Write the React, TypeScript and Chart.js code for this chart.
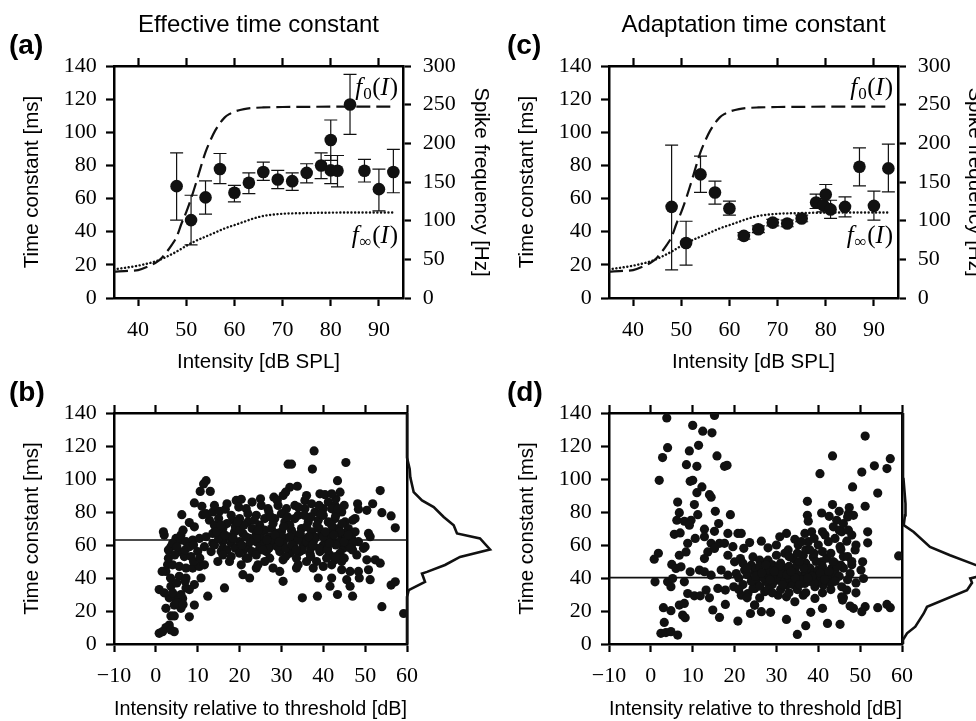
import React, { useEffect, useRef } from 'react';
import { Chart, registerables } from 'chart.js';
Chart.register(...registerables);

const SERIF = '"Liberation Serif", "Times New Roman", serif';
const SANS = '"Liberation Sans", Arial, sans-serif';

// ---------- tick values ----------
const msTicks = [0, 20, 40, 60, 80, 100, 120, 140];
const hzTicks = [0, 50, 100, 150, 200, 250, 300];
const dbTicks = [40, 50, 60, 70, 80, 90];
const relTicks = [-10, 0, 10, 20, 30, 40, 50, 60];

// ---------- (a) effective time constant vs intensity ----------
const effIntensity = [48, 51, 54, 57, 60, 63, 66, 69, 72, 75, 78, 80, 80, 81.4, 84, 87, 90, 93];
const effMean = [67.5, 47, 60.7, 77.8, 63.5, 69.5, 76, 71.5, 70.5, 75.5, 80, 95.3, 77, 76.8, 116.8, 76.8, 65.7, 76];
const effLow = [47, 32, 50.6, 69, 58, 63, 71, 66, 65, 69.5, 72, 83, 69, 67, 98.7, 70, 52.6, 63.5];
const effHigh = [87.6, 62, 70.7, 87.2, 68, 75.5, 82, 77, 75.5, 81, 87.6, 107.4, 86, 86, 135, 83.6, 77.8, 89.7];

// ---------- (c) adaptation time constant vs intensity ----------
const adaIntensity = [48, 51, 54, 57, 60, 63, 66, 69, 72, 75, 78, 79.5, 80, 81, 84, 87, 90, 93];
const adaMean = [55, 33.2, 74.6, 63.7, 54, 37.5, 41.5, 45.5, 45, 48, 57.6, 56, 62.5, 53.4, 55, 79.2, 55.6, 78.2];
const adaLow = [17, 19.8, 63.7, 56.6, 50, 35.5, 39.5, 43.5, 43, 46, 54, 52, 57, 48, 49, 67.7, 47, 64];
const adaHigh = [92.3, 46.3, 85.6, 70.5, 58.4, 39.5, 43.5, 47.5, 47, 50, 62.7, 60, 68.5, 59, 61, 90.6, 64.5, 92.9];

// ---------- onset / steady-state rate curves (Hz) ----------
const f0X = [35, 38, 40, 42, 44, 45, 46, 47, 48, 49, 50, 51, 52, 53, 54, 55, 56, 57, 58, 59, 60, 62, 64, 66, 70, 93];
const f0Hz = [34, 35, 36, 40.5, 47, 52.5, 60, 68.6, 79, 96, 111, 128.6, 148, 169, 188.6, 203.6, 216.4, 226, 233.6, 238, 241, 244.3, 245.8, 246.4, 247, 247.5];
const fInfX = [35, 40, 44, 46, 48, 50, 52, 54, 56, 58, 60, 62, 64, 66, 68, 70, 74, 80, 93];
const fInfHz = [37, 41.8, 48.2, 53.6, 60, 67.5, 73.9, 79.3, 84.6, 90, 94.3, 98.6, 102.9, 106.1, 107.8, 108.9, 109.7, 110.4, 110.6];

// ---------- (b) effective time constant vs relative intensity ----------
const effScatter: number[][] = [
  [12, 99], [11.4, 97], [10.6, 92.5], [13, 92.5], [9.2, 85.5], [11, 83.5], [6.2, 78.4], [8, 73.6], [9.2, 71], [11.2, 78.4], [12.8, 75], [12, 79], [13.6, 80], [15.2, 80.4], [16.6, 81.7], [1.8, 68], [2, 66], [19.2, 87], [20.4, 87.7], [21.6, 82], [19.8, 83], [18.4, 75], [20, 76], [22, 74], [24, 78],
  [3.6, 59], [4.8, 64], [6, 63], [7.2, 62], [8.8, 63], [10.4, 64], [12, 65], [13.6, 67], [15.2, 68], [16, 62], [17.6, 65], [18.8, 68], [20.8, 67], [22.4, 64], [24, 62], [24.8, 58],
  [5.6, 56], [6.8, 53], [8.4, 53], [10, 56], [11.6, 59], [13.2, 56], [14.8, 50], [17.6, 50], [13.6, 61], [15.6, 56],
  [2.8, 48], [4, 48], [5.6, 47], [7.2, 46], [8.8, 46], [10.4, 47], [11.6, 48], [2.4, 44], [5.6, 41], [7.2, 40], [10.8, 40], [20.4, 48], [20.8, 42], [22.4, 40], [24, 46], [21.6, 52],
  [0.8, 33], [3.6, 35], [7.2, 34], [9.2, 36], [16.4, 34], [12.4, 29], [3.2, 28], [4.8, 27.6], [6.4, 27.6], [5.6, 24.6], [4.4, 23.6], [9.2, 23.6], [2.4, 21.6], [6, 21.6], [8, 16.5], [3.6, 17], [4.4, 17], [3.2, 11.5], [2.4, 10], [3.6, 8.5], [4.4, 7.5], [0.8, 6.5], [1.6, 7.5],
  [3, 57], [4, 61], [5, 59], [6, 66], [7, 57], [8, 59], [9, 60], [3, 52], [4.5, 54], [9, 50], [10.5, 52], [6.5, 69], [1.5, 44], [3.5, 40], [4, 31], [5, 37], [6, 30], [7, 38], [8, 33], [2, 31], [5, 25], [6.5, 24],
  [37.8, 117], [31.6, 109], [32.4, 109], [37.4, 106], [45.4, 110], [43.4, 99], [53.6, 93], [32, 95], [33.8, 95.6], [28.2, 89], [30.4, 90], [39.2, 91], [40.4, 90.5], [48.2, 85], [51.8, 85], [50.4, 81], [48.4, 81.7], [54, 79.6], [56.2, 77.6], [57.2, 70.4], [47.6, 76], [47, 75],
  [35.6, 87], [37.2, 85], [41.2, 86], [42.8, 84], [44.4, 80], [45.2, 74], [42.8, 76], [42, 82], [40, 78], [38, 80], [35.6, 82], [33.2, 84], [31.2, 82], [29.2, 84], [26.8, 82], [25.2, 84], [26, 76], [28.4, 76], [30.8, 74], [33.2, 76], [36.4, 74], [38.8, 75], [41.2, 74], [43.6, 70], [46, 70], [47.6, 68], [50.8, 67], [51.2, 65],
  [24.8, 72], [27.6, 70], [30, 68], [32.4, 69], [34.8, 70], [37.2, 68], [39.6, 66], [42, 68], [44.4, 65], [46.8, 64], [48.4, 62], [50, 59], [25.6, 62], [28, 60], [30.4, 61], [32.8, 62], [35.2, 60], [37.6, 62], [40, 60], [42.4, 62], [44.8, 58],
  [26.4, 56], [29.6, 56], [32, 55], [34.4, 56], [36.8, 55], [39.2, 56], [41.6, 54], [44, 55], [27.2, 52], [30.4, 51], [33.6, 52], [36, 50], [38.4, 50], [40.8, 52], [42.8, 51], [28, 46], [29.6, 44], [24.4, 48], [33.6, 46], [37.6, 46], [40, 47], [42, 48], [44.4, 50],
  [48, 54], [49.6, 58], [50.4, 51], [52.4, 51], [53.6, 49], [50.8, 45], [46.4, 44], [48.4, 44], [51.2, 39], [48.6, 40], [42, 40], [44.4, 45], [38.8, 40], [30.4, 38], [45.6, 39], [46.4, 35], [41.6, 35], [43.4, 30], [38.6, 29], [35, 28], [47, 29], [54, 22.6], [56.2, 35.7], [57.2, 37.7], [59.2, 18.5],
  [14, 72], [15, 76], [16, 70], [17, 73], [18, 78], [19, 71], [20, 69], [21, 72], [22, 79], [23, 70], [24, 67], [25, 66], [26, 69], [27, 65], [28, 73], [29, 67], [30, 79], [31, 64], [32, 72], [33, 66], [34, 78], [35, 64], [36, 71], [37, 77], [38, 65], [39, 70], [40, 82], [41, 64], [42, 72], [43, 78], [44, 62], [45, 67], [46, 60], [47, 57],
  [14, 60], [15, 64], [16, 58], [17, 57], [18, 61], [19, 58], [20, 62], [21, 57], [22, 59], [23, 56], [24, 64], [25, 59], [26, 61], [27, 58], [28, 63], [29, 59], [30, 65], [31, 58], [32, 65], [33, 59], [34, 63], [35, 57], [36, 62], [37, 58], [38, 64], [39, 58], [40, 65], [41, 58], [42, 64], [43, 60], [44, 68], [45, 62], [46, 66], [47, 61],
  [16, 54], [18, 53], [20, 55], [22, 52], [24, 54], [26, 50], [31, 53], [34, 48], [37, 53], [41, 57], [43, 53], [45, 52],
  [17, 85], [23, 86], [27, 80], [29, 87], [34, 83], [39, 84], [43, 88], [45, 84], [36, 90], [31, 92], [44, 92], [42, 91], [14, 84], [25, 88],
  [14.5, 68], [16.5, 66], [18.5, 64], [20.5, 60], [22.5, 62], [24.5, 69], [26.5, 63], [28.5, 66], [30.5, 71], [32.5, 60], [34.5, 67], [36.5, 65], [38.5, 72], [40.5, 68], [42.5, 66], [44.5, 73], [46.5, 58],
  [15.5, 72], [19.5, 74], [23.5, 75], [27.5, 77], [31.5, 77], [35.5, 78], [39.5, 79], [43.5, 82], [29.5, 62], [33.5, 57], [37.5, 60], [41.5, 61], [21.5, 65], [25.5, 57],
];
const effMedian = 63;

// ---------- (d) adaptation time constant vs relative intensity ----------
const adaScatter: number[][] = [
  [3.8, 137], [15.2, 138.5], [10, 132.5], [12.4, 129], [14.6, 128], [4, 119], [2.8, 113], [9.2, 117], [11.4, 120.4], [15.8, 114], [8.5, 108.7], [11, 107.7], [17.6, 107.7], [18.2, 108.3], [2, 99.2], [9.4, 98.6], [10, 99.2], [12.2, 95.2], [11, 91.7], [14, 90.5], [14.4, 89], [6.4, 86], [10.4, 84.5],
  [6.8, 79.6], [11.2, 78.4], [15.4, 80.4], [19, 78.4], [6.2, 75], [8, 74.4], [9.6, 75], [9.2, 72], [16.2, 73], [12.8, 69.6], [15.2, 68.3], [18.4, 67], [20.8, 67], [21.6, 67], [5.6, 66.5], [7, 67.3], [10.6, 64], [12.8, 65],
  [8.8, 61], [14.4, 61], [16.4, 61], [17.6, 61], [19.6, 59], [22.2, 58], [23.6, 61.5], [1.8, 55], [0.8, 51.4], [6.8, 53.8], [8.4, 55.8], [13.6, 55.8], [15.2, 57.9], [12.8, 51.8], [18.4, 53.8], [20, 49.8], [21.4, 51.8],
  [5, 48.2], [6, 45.8], [7.2, 46.8], [9.4, 43.8], [11.6, 44.8], [12.8, 43.8], [14.4, 41.7], [16.8, 44.8], [18.4, 41.7], [20.4, 42.7], [22.4, 44.8], [24, 47.8], [24.8, 43.8],
  [1, 37.7], [4, 37.7], [4.8, 34.7], [8, 37.7], [5.2, 39.7], [8.8, 30.6], [10.4, 29.2], [11.8, 29.2], [13.2, 32.7], [14, 28], [16, 33.7], [17.8, 32.7], [19.8, 34.7], [21.6, 29.6], [23.2, 30.6], [24.8, 33.7],
  [3, 22], [4.8, 20.2], [6.8, 23.6], [8, 24.6], [7.6, 17.5], [8.2, 15.9], [14.8, 20.6], [16.4, 16.1], [17.8, 24], [20.8, 13.9], [23.8, 18.5], [24.8, 23.6], [3.2, 13.1], [2.4, 6.5], [3.6, 6.9], [4.8, 7.5], [6.4, 5.4],
  [51.2, 126], [43.4, 114], [40.4, 103.2], [50.4, 104.2], [53.4, 108], [56.4, 106.3], [57.2, 112.3], [48.2, 95.2], [54.2, 91.5], [37.4, 86.5], [43.4, 84.5], [47.4, 82.7], [51.2, 83.5], [37.4, 78], [37.6, 74.4], [40.8, 79.4], [42.6, 77.4], [45, 80.4], [47.2, 79], [48.4, 78], [44.4, 75], [43.6, 71], [45.6, 68], [47.2, 69], [51.8, 68], [51.8, 61.3],
  [41, 68], [41.6, 66], [32.4, 67], [30.8, 65], [34.4, 63.5], [36.8, 67], [38.4, 68], [26.4, 62.3], [28, 58.3], [30, 60], [32.8, 57], [35.2, 60], [37.6, 62], [40, 60], [42.4, 62], [45.2, 59], [46.8, 62.3], [48.8, 57], [45.4, 57.3],
  [24.4, 52.8], [26, 50.8], [28, 50.8], [30, 53.8], [32, 55], [34, 51.8], [36.4, 53.8], [38.8, 52.8], [40.8, 49.8], [43.2, 45.8], [45.4, 47.8], [47.6, 42.7], [50.2, 44.8], [50.6, 49.8],
  [25.2, 45.8], [27.6, 43.8], [30, 44.8], [32, 45.8], [34.4, 44.8], [36.8, 42.7], [39.2, 41.7], [41.2, 42.7], [43.6, 41.7], [50.8, 39.7], [25.2, 38.7], [27.6, 37.7], [30, 38.7], [32.4, 35.7], [34.8, 37.7], [36.8, 36.7], [39.2, 34.7], [41.2, 35.7], [45.6, 34.7], [46.8, 32.7],
  [24.4, 33.7], [27.2, 31.7], [30.4, 29.6], [32.4, 28.6], [34.4, 25.6], [36.4, 29.6], [39.2, 27.6], [45.6, 28.6], [45.8, 26.6], [24.8, 23.6], [26.4, 19.6], [28.6, 19.2], [32.4, 14.9], [38.2, 19.2], [41, 21.6], [47.6, 23], [48.4, 21.6], [50.4, 19.6], [51.2, 22.6], [54.2, 22], [56.4, 24], [57.2, 22], [42.2, 12.5], [45.2, 11.9], [37, 11.1], [35, 5.8], [59.2, 53.4],
  [21, 40], [22, 36], [23, 42], [24, 38], [25, 41], [26, 35], [27, 40], [28, 42], [29, 36], [30, 41], [31, 39], [31, 43], [32, 38], [33, 40], [33, 47], [34, 36], [35, 42], [35, 48], [36, 39], [37, 44], [37, 49], [38, 38], [38, 46], [39, 43], [40, 38], [40, 45], [41, 47], [42, 40], [42, 52], [43, 37], [44, 44], [44, 49], [45, 41], [46, 46], [46, 53], [47, 39], [48, 48],
  [29, 48], [31, 49], [33, 53], [35, 55], [37, 57], [39, 55], [41, 56], [43, 55], [22, 49], [23, 46], [26, 47], [28, 45], [21, 33], [23, 28], [26, 28], [28, 33], [29, 31], [31, 33], [33, 31], [35, 33], [37, 31], [39, 37], [41, 31], [43, 33], [44, 38],
  [38, 57], [36, 62], [39, 64], [44, 64], [45, 69], [46, 73], [47, 77], [48, 66], [49, 60], [47, 53], [48, 50], [49, 37], [49, 31], [46, 28],
  [26.5, 43], [28.5, 39], [30.5, 47], [32.5, 42], [34.5, 40], [36.5, 46], [38.5, 41], [40.5, 43], [42.5, 44], [44.5, 47], [29.5, 44], [33.5, 44], [37.5, 40], [41.5, 39], [35.5, 50], [39.5, 50], [31.5, 36], [35.5, 36], [43.5, 50], [27.5, 48],
];
const adaMedian = 40.2;

// ---------- marginal distributions (time constant [ms] -> density) ----------
const effHistMs = [0, 28.6, 32.6, 37.7, 42.7, 43.7, 47.9, 52.8, 57.3, 64, 67, 72, 77, 83, 87, 92, 101, 106, 113, 140];
const effHistVal = [0, 0, 1.7, 18, 15, 20, 38, 53, 83, 73, 50, 46.7, 36.7, 26.7, 15, 6.7, 3.3, 2.7, 0, 0];
const adaHistMs = [0, 2.5, 6.5, 10.5, 18.5, 22.5, 32.6, 37.1, 39.7, 41.7, 44.5, 47.8, 53.8, 58.8, 67.9, 72, 78, 85, 100, 140];
const adaHistVal = [0, 0, 4, 12.3, 20.7, 24, 64, 69, 67.3, 80, 95, 73, 47, 27, 10.7, 0.7, 2, 2.5, 0.5, 0];

// ---------- helpers ----------
type Pos = 'left' | 'right' | 'top' | 'bottom';
function axis(o: { pos: Pos; min: number; max: number; ticks: number[]; size: number; labels: boolean; marks: boolean; labelPad?: number; title?: string; titlePad?: number }) {
  const vertical = o.pos === 'left' || o.pos === 'right';
  return {
    type: 'linear',
    position: o.pos,
    min: o.min,
    max: o.max,
    afterBuildTicks: (s: any) => { s.ticks = o.ticks.map((v) => ({ value: v })); },
    afterFit: (s: any) => { if (vertical) s.width = o.size; else s.height = o.size; },
    grid: { display: true, drawOnChartArea: false, drawTicks: o.marks, tickLength: 8, tickWidth: 2.2, tickColor: '#000' },
    border: { display: true, color: '#000', width: 2.5 },
    ticks: {
      display: o.labels, color: '#000', font: { family: SERIF, size: 22 }, padding: o.labelPad ?? 10,
      maxRotation: 0, autoSkip: false,
      callback: (v: number) => (v < 0 ? '\u2212' + Math.abs(v) : String(v)),
    },
    title: o.title
      ? { display: true, text: o.title, color: '#000', font: { family: SANS, size: 20.5 }, padding: o.pos === 'bottom' ? { top: 0, bottom: o.titlePad } : { top: o.titlePad, bottom: 0 } }
      : { display: false },
  };
}

const errorBarPlugin = {
  id: 'errorBars',
  beforeDatasetsDraw(chart: any) {
    const ctx = chart.ctx;
    chart.data.datasets.forEach((ds: any) => {
      if (!ds.errLow) return;
      const xs = chart.scales.x;
      const ys = chart.scales.y;
      ctx.save();
      ctx.strokeStyle = '#111';
      ctx.lineWidth = 1.2;
      ds.data.forEach((p: any, j: number) => {
        const px = xs.getPixelForValue(p.x);
        const t = ys.getPixelForValue(ds.errHigh[j]);
        const b = ys.getPixelForValue(ds.errLow[j]);
        ctx.beginPath();
        ctx.moveTo(px, t); ctx.lineTo(px, b);
        ctx.moveTo(px - 6.5, t); ctx.lineTo(px + 6.5, t);
        ctx.moveTo(px - 6.5, b); ctx.lineTo(px + 6.5, b);
        ctx.stroke();
      });
      ctx.restore();
    });
  },
};

const textPlugin = {
  id: 'panelText',
  afterDraw(chart: any, _a: any, opts: any) {
    const { ctx, chartArea } = chart;
    ctx.save();
    ctx.fillStyle = '#000';
    ctx.textBaseline = 'alphabetic';
    if (opts.title) {
      ctx.font = `24px ${SANS}`;
      ctx.textAlign = 'center';
      ctx.fillText(opts.title, (chartArea.left + chartArea.right) / 2, opts.titleY);
    }
    if (opts.label) {
      ctx.font = `bold 28px ${SANS}`;
      ctx.textAlign = 'left';
      ctx.fillText(opts.label, opts.labelX, opts.labelY);
    }
    (opts.math || []).forEach((m: any) => {
      const parts = [
        { t: 'f', f: `italic 25px ${SERIF}`, dy: 0, gap: 1 },
        { t: m.sub, f: `17px ${SERIF}`, dy: 4, gap: 0.5 },
        { t: '(', f: `25px ${SERIF}`, dy: 0, gap: 0 },
        { t: 'I', f: `italic 25px ${SERIF}`, dy: 0, gap: 1 },
        { t: ')', f: `25px ${SERIF}`, dy: 0, gap: 0 },
      ];
      let w = 0;
      parts.forEach((p) => { ctx.font = p.f; w += ctx.measureText(p.t).width + p.gap; });
      let x = chart.scales.x.getPixelForValue(m.x) - w;
      const y = chart.scales.y.getPixelForValue(m.y);
      ctx.textAlign = 'left';
      parts.forEach((p) => { ctx.font = p.f; ctx.fillText(p.t, x, y + p.dy); x += ctx.measureText(p.t).width + p.gap; });
    });
    ctx.restore();
  },
};

const pts = (xs: number[], ys: number[]) => xs.map((x, i) => ({ x, y: ys[i] }));
const pairPts = (arr: number[][]) => arr.map(([x, y]) => ({ x, y }));

function topConfig(opts: { xs: number[]; mean: number[]; lo: number[]; hi: number[]; leftSize: number; rightSize: number; leftTitlePad: number; rightTitlePad: number; title: string; label: string; labelX: number }) {
  return {
    type: 'scatter',
    data: {
      datasets: [
        { type: 'scatter', data: pts(opts.xs, opts.mean), errLow: opts.lo, errHigh: opts.hi, yAxisID: 'y', pointRadius: 6.3, pointBackgroundColor: '#111', pointBorderWidth: 0, borderWidth: 0 },
        { type: 'line', data: pts(f0X, f0Hz), yAxisID: 'y2', borderColor: '#111', borderWidth: 2.2, borderDash: [14, 6], pointRadius: 0, cubicInterpolationMode: 'monotone', fill: false },
        { type: 'line', data: pts(fInfX, fInfHz), yAxisID: 'y2', borderColor: '#111', borderWidth: 2.4, borderDash: [0.1, 3.6], borderCapStyle: 'round', pointRadius: 0, cubicInterpolationMode: 'monotone', fill: false },
      ],
    },
    options: {
      responsive: false, animation: false, devicePixelRatio: 1, events: [],
      layout: { padding: 0 },
      plugins: {
        legend: { display: false }, tooltip: { enabled: false },
        panelText: { title: opts.title, titleY: 31.5, label: opts.label, labelX: opts.labelX, labelY: 54, math: [{ sub: '0', x: 94, y: 122.5 }, { sub: '\u221E', x: 94, y: 33.2 }] },
      },
      scales: {
        x: axis({ pos: 'bottom', min: 35, max: 95, ticks: dbTicks, size: 82, labels: true, marks: true, labelPad: 11, title: 'Intensity [dB SPL]', titlePad: 5.1 }),
        xTop: axis({ pos: 'top', min: 35, max: 95, ticks: dbTicks, size: 66, labels: false, marks: true }),
        y: axis({ pos: 'left', min: 0, max: 140, ticks: msTicks, size: opts.leftSize, labels: true, marks: true, labelPad: 9.3, title: 'Time constant [ms]', titlePad: opts.leftTitlePad }),
        y2: axis({ pos: 'right', min: 0, max: 300, ticks: hzTicks, size: opts.rightSize, labels: true, marks: true, labelPad: 11.7, title: 'Spike frequency [Hz]', titlePad: opts.rightTitlePad }),
      },
    },
    plugins: [errorBarPlugin, textPlugin],
  };
}

function bottomConfig(opts: { data: number[][]; median: number; leftSize: number; rightSize: number; leftTitlePad: number; label: string; labelX: number }) {
  return {
    type: 'scatter',
    data: {
      datasets: [
        { type: 'scatter', data: pairPts(opts.data), pointRadius: 4.6, pointBackgroundColor: '#111', pointBorderWidth: 0, borderWidth: 0 },
        { type: 'line', data: [{ x: -10, y: opts.median }, { x: 60, y: opts.median }], borderColor: '#111', borderWidth: 1.6, pointRadius: 0, fill: false },
      ],
    },
    options: {
      responsive: false, animation: false, devicePixelRatio: 1, events: [],
      layout: { padding: 0 },
      plugins: { legend: { display: false }, tooltip: { enabled: false }, panelText: { label: opts.label, labelX: opts.labelX, labelY: 21 } },
      scales: {
        x: axis({ pos: 'bottom', min: -10, max: 60, ticks: relTicks, size: 86, labels: true, marks: true, labelPad: 11, title: 'Intensity relative to threshold [dB]', titlePad: 8.4 }),
        xTop: axis({ pos: 'top', min: -10, max: 60, ticks: relTicks, size: 33, labels: false, marks: true }),
        y: axis({ pos: 'left', min: 0, max: 140, ticks: msTicks, size: opts.leftSize, labels: true, marks: true, labelPad: 9.3, title: 'Time constant [ms]', titlePad: opts.leftTitlePad }),
        y2: axis({ pos: 'right', min: 0, max: 140, ticks: msTicks, size: opts.rightSize, labels: false, marks: false }),
      },
    },
    plugins: [textPlugin],
  };
}

function histConfig(ms: number[], val: number[]) {
  return {
    type: 'scatter',
    data: { datasets: [{ type: 'line', data: pts(val, ms), borderColor: '#111', borderWidth: 2.6, pointRadius: 0, fill: false, clip: false }] },
    options: {
      responsive: false, animation: false, devicePixelRatio: 1, events: [],
      layout: { padding: 10 },
      plugins: { legend: { display: false }, tooltip: { enabled: false } },
      scales: { x: { type: 'linear', display: false, min: 0, max: 100 }, y: { type: 'linear', display: false, min: 0, max: 140 } },
    },
  };
}

function ChartCanvas({ left, top, width, height, make }: { left: number; top: number; width: number; height: number; make: () => any }) {
  const ref = useRef<HTMLCanvasElement>(null);
  useEffect(() => {
    const chart = new Chart(ref.current as HTMLCanvasElement, make());
    return () => chart.destroy();
  }, []);
  return <canvas ref={ref} width={width} height={height} style={{ position: 'absolute', left, top, width, height }} />;
}

export default function App() {
  return (
    <div style={{ position: 'fixed', left: 0, top: 0, width: 976, height: 721, overflow: 'hidden', background: '#fff' }}>
      <ChartCanvas left={0} top={0} width={500} height={380} make={() => topConfig({ xs: effIntensity, mean: effMean, lo: effLow, hi: effHigh, leftSize: 114, rightSize: 97, leftTitlePad: 20.3, rightTitlePad: 7.3, title: 'Effective time constant', label: '(a)', labelX: 9 })} />
      <ChartCanvas left={480} top={0} width={520} height={380} make={() => topConfig({ xs: adaIntensity, mean: adaMean, lo: adaLow, hi: adaHigh, leftSize: 129, rightSize: 102, leftTitlePad: 35.3, rightTitlePad: 12.7, title: 'Adaptation time constant', label: '(c)', labelX: 27 })} />
      <ChartCanvas left={0} top={380} width={430} height={350} make={() => bottomConfig({ data: effScatter, median: effMedian, leftSize: 114, rightSize: 23, leftTitlePad: 20.3, label: '(b)', labelX: 9 })} />
      <ChartCanvas left={480} top={380} width={450} height={350} make={() => bottomConfig({ data: adaScatter, median: adaMedian, leftSize: 129, rightSize: 28, leftTitlePad: 34.6, label: '(d)', labelX: 27 })} />
      <ChartCanvas left={397} top={403} width={120} height={251} make={() => histConfig(effHistMs, effHistVal)} />
      <ChartCanvas left={892.7} top={403} width={120} height={251} make={() => histConfig(adaHistMs, adaHistVal)} />
    </div>
  );
}
